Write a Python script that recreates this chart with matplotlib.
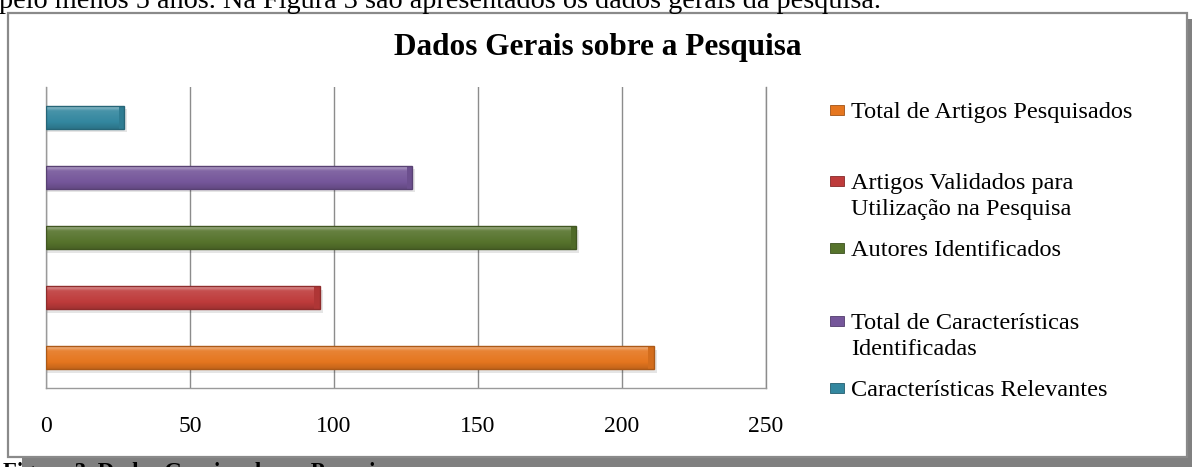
import numpy as np
import matplotlib
matplotlib.use("Agg")
import matplotlib.pyplot as plt
from matplotlib.patches import Rectangle
from matplotlib.colors import to_rgb

# series, bottom bar first (same order as the legend)
series = ["Total de Artigos Pesquisados",
          "Artigos Validados para\nUtilização na Pesquisa",
          "Autores Identificados",
          "Total de Características\nIdentificadas",
          "Características Relevantes"]
values = [211, 95, 184, 127, 27]
colors = ["#E5761F", "#BE3B3B", "#56732C", "#75569A", "#33879F"]
ticks = [0, 50, 100, 150, 200, 250]

W, H = 1192, 467
plt.rcParams["font.family"] = ["Liberation Serif", "DejaVu Serif"]


def fx(px):  # pixel -> figure fraction
    return px / W


def fy(py):
    return 1 - py / H


def mix(c, other, t):
    c = np.array(to_rgb(c)); o = np.array(to_rgb(other))
    return c * (1 - t) + o * t


fig = plt.figure(figsize=(W / 100, H / 100), dpi=100)

# page text around the chart (cut off by the crop)
fig.text(fx(-1), fy(7.5), "pelo menos 5 anos. Na Figura 3 são apresentados os dados gerais da pesquisa.",
         fontsize=20.3, va="baseline", ha="left", color="black")

# chart frame with shadow
fig.patches.append(Rectangle((fx(22), 0), fx(W - 22), fy(19), transform=fig.transFigure,
                             facecolor="#808080", edgecolor="none", zorder=0))
fig.patches.append(Rectangle((fx(8), fy(457)), fx(1187 - 8), (457 - 13) / H, transform=fig.transFigure,
                             facecolor="white", edgecolor="#8a8a8a", lw=1.6, zorder=1))
fig.text(fx(3), fy(462), "Figura 3. Dados Gerais sobre a Pesquisa", fontsize=16.5, fontweight="bold",
         va="top", ha="left", color="black", zorder=3)

fig.text(fx(598), fy(47.5), "Dados Gerais sobre a Pesquisa", fontsize=22.5, fontweight="bold",
         ha="center", va="center")

ax = fig.add_axes([fx(46), fy(388), fx(766 - 46), (388 - 87) / H], zorder=2)
ax.patch.set_alpha(0)
h = 0.38
for i, (v, c) in enumerate(zip(values, colors)):
    # soft shadow under the bar
    ax.barh(i - 0.06, v + 1.2, height=h, left=0, color="#000000", alpha=0.10, zorder=2, lw=0)
    # vertical gradient: light top, base middle, dark bottom
    n = 40
    t = np.linspace(0, 1, n)
    grad = np.empty((n, 1, 3))
    for k, tt in enumerate(t):
        if tt < 0.2:
            grad[k, 0] = mix(c, "white", 0.40 * (1 - tt / 0.2) + 0.10)
        elif tt < 0.7:
            grad[k, 0] = mix(c, "white", 0.10 * (1 - (tt - 0.2) / 0.5))
        else:
            grad[k, 0] = mix(c, "black", 0.15 * (tt - 0.7) / 0.3)
    ax.imshow(grad, extent=(0, v, i - h / 2, i + h / 2), origin="upper", aspect="auto",
              zorder=3, interpolation="bilinear")
    ax.add_patch(Rectangle((0, i - h / 2), v, h, facecolor="none",
                           edgecolor=mix(c, "black", 0.25), lw=1.0, zorder=4))
    # bevelled right end
    ax.add_patch(Rectangle((v - 1.8, i - h / 2), 1.8, h, facecolor=mix(c, "black", 0.08),
                           edgecolor="none", zorder=3.5))

ax.set_xlim(0, 250)
ax.set_ylim(-0.5, 4.5)
ax.set_xticks(ticks)
ax.set_xticklabels([str(t) for t in ticks], fontsize=17)
ax.set_yticks([])
ax.xaxis.grid(True, color="#8c8c8c", lw=1.0)
ax.axvline(250, color="#8c8c8c", lw=1.0, clip_on=False, zorder=0.5)
ax.set_axisbelow(True)
for s in ["top", "right"]:
    ax.spines[s].set_visible(False)
for s in ["left", "bottom"]:
    ax.spines[s].set_color("#9a9a9a")
    ax.spines[s].set_linewidth(1.0)
ax.tick_params(axis="x", length=0, pad=20)

# legend, placed like the Excel legend (pixel centre of each text line)
leg_y = [110, 181, 248, 321, 388]
line_gap = 26
for name, c, y in zip(series, colors, leg_y):
    fig.patches.append(Rectangle((fx(830), fy(y + 5)), fx(14), 10 / H, transform=fig.transFigure,
                                 facecolor=c, edgecolor=mix(c, "black", 0.3), lw=0.6, zorder=3))
    for j, line in enumerate(name.split("\n")):
        fig.text(fx(851), fy(y + j * line_gap), line, fontsize=17.5, va="center_baseline",
                 ha="left", zorder=3)

fig.savefig("out.png", dpi=100)
